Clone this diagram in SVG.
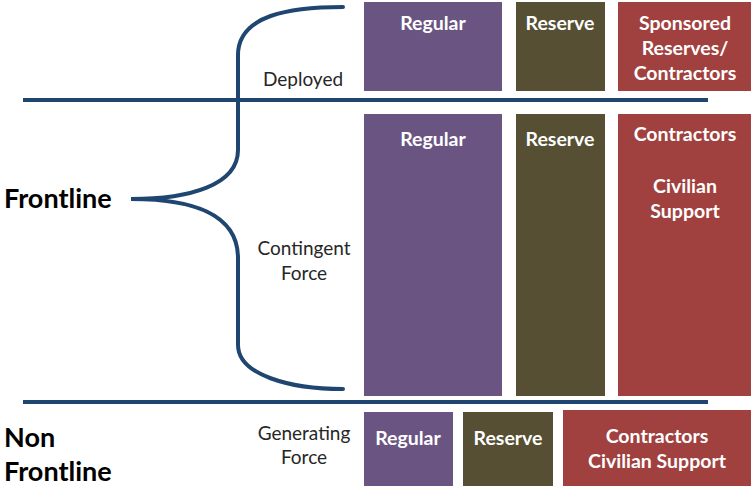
<svg xmlns="http://www.w3.org/2000/svg" width="751" height="486" viewBox="0 0 751 486">
  <style>
    .reg { fill: #6a5582; }
    .res { fill: #564f33; }
    .con { fill: #a04140; }
    .lbl { font-family: Lato, "Open Sans", sans-serif; font-weight: bold; font-size: 19.5px; fill: #ffffff; text-anchor: middle; }
    .cat { font-family: Lato, "Open Sans", sans-serif; font-size: 19px; fill: #262626; text-anchor: middle; }
    .big { font-family: Lato, "Open Sans", sans-serif; font-weight: bold; font-size: 27px; fill: #000000; }
    .rule { stroke: #1f4670; stroke-width: 4; fill: none; }
    .brace { stroke: #1f4670; stroke-width: 4; fill: none; stroke-linecap: round; }
  </style>

  <!-- separators and brace -->
  <g id="connectors">
    <line class="rule" x1="23" y1="100" x2="708" y2="100"/>
    <line class="rule" x1="23" y1="402" x2="708" y2="402"/>
    <path class="brace" d="M343,7 C290,7 238,15 238,55 L238,150 C238,185 190,199 131,199 C190,199 238,213 238,258 L238,345 C238,375 290,389 343,389"/>
  </g>

  <!-- side labels -->
  <g id="frontline"><text class="big" x="4" y="208">Frontline</text></g>
  <g id="non-frontline">
    <text class="big" x="4" y="447">Non</text>
    <text class="big" x="4" y="481">Frontline</text>
  </g>
  <g id="deployed"><text class="cat" x="303" y="86">Deployed</text></g>
  <g id="contingent">
    <text class="cat" x="304" y="255">Contingent</text>
    <text class="cat" x="304" y="280">Force</text>
  </g>
  <g id="generating">
    <text class="cat" x="304" y="440">Generating</text>
    <text class="cat" x="304" y="464">Force</text>
  </g>

  <!-- deployed row -->
  <g id="dep-regular">
    <rect class="reg" x="364" y="2" width="138" height="89"/>
    <text class="lbl" x="433" y="30">Regular</text>
  </g>
  <g id="dep-reserve">
    <rect class="res" x="516" y="2" width="89" height="89"/>
    <text class="lbl" x="560" y="30">Reserve</text>
  </g>
  <g id="dep-sponsored">
    <rect class="con" x="618" y="2" width="133" height="89"/>
    <text class="lbl" x="685" y="30">Sponsored</text>
    <text class="lbl" x="685" y="55">Reserves/</text>
    <text class="lbl" x="685" y="80">Contractors</text>
  </g>

  <!-- contingent row -->
  <g id="con-regular">
    <rect class="reg" x="364" y="114" width="138" height="282"/>
    <text class="lbl" x="433" y="146">Regular</text>
  </g>
  <g id="con-reserve">
    <rect class="res" x="516" y="114" width="89" height="282"/>
    <text class="lbl" x="560" y="146">Reserve</text>
  </g>
  <g id="con-contractors">
    <rect class="con" x="618" y="114" width="133" height="282"/>
    <text class="lbl" x="685" y="141">Contractors</text>
    <text class="lbl" x="685" y="193">Civilian</text>
    <text class="lbl" x="685" y="218">Support</text>
  </g>

  <!-- generating row -->
  <g id="gen-regular">
    <rect class="reg" x="364" y="412" width="89" height="74"/>
    <text class="lbl" x="408" y="445">Regular</text>
  </g>
  <g id="gen-reserve">
    <rect class="res" x="463" y="412" width="90" height="74"/>
    <text class="lbl" x="508" y="445">Reserve</text>
  </g>
  <g id="gen-contractors">
    <rect class="con" x="563" y="410" width="188" height="76"/>
    <text class="lbl" x="657" y="443">Contractors</text>
    <text class="lbl" x="657" y="468">Civilian Support</text>
  </g>
</svg>
